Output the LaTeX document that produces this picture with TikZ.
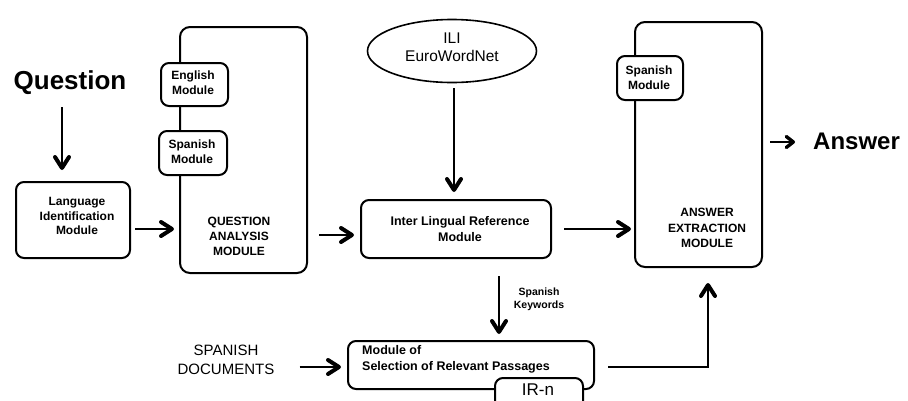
\documentclass[tikz,border=0pt]{standalone}
\usepackage{fontspec}
\setmainfont{Liberation Sans}
\usetikzlibrary{arrows.meta,shapes.geometric,calc}
\begin{document}
\begin{tikzpicture}[x=1pt,y=-1pt,
 box/.style={draw,line width=2pt,rounded corners=8pt,fill=white,inner sep=0pt,minimum width=#1},
 modtxt/.style={font=\fontsize{12}{15}\selectfont\bfseries,align=center,inner sep=0pt},
 plain/.style={inner sep=0pt,align=center},
 thinline/.style={line width=1.3pt},
 thickline/.style={line width=2.3pt},
 chev/.style={-{Straight Barb[length=11pt,width=14pt,line width=4pt,round]}},
 smallchev/.style={-{Straight Barb[length=7pt,width=11pt,line width=3.4pt,round]}},
]
\useasboundingbox[fill=white] (0,0) rectangle (908,400);

% main boxes
\node[box=114pt,minimum height=76pt] (lim) at (73,220) {};
\node[modtxt,font=\fontsize{12}{14.5}\selectfont\bfseries] (limt) at (77,216) {Language\\Identification\\Module};

\node[box=127pt,minimum height=246pt,rounded corners=10pt] (qa) at (243.5,150) {};
\node[box=67pt,minimum height=43pt] (eng) at (194.5,84.5) {};
\node[modtxt] (engt) at (193,82.5) {English\\Module};
\node[box=68pt,minimum height=44pt] (spq) at (193,153) {};
\node[modtxt] (spqt) at (192,151.5) {Spanish\\Module};
\node[modtxt] (qat) at (239,236) {QUESTION\\ANALYSIS\\MODULE};

\node[draw,ellipse,line width=1.6pt,minimum width=169pt,minimum height=63pt,inner sep=0pt] (ili) at (452,51) {};
\node[plain,font=\fontsize{15.5}{18}\selectfont] (ilit) at (452,47) {ILI\\EuroWordNet};

\node[box=190pt,minimum height=58pt] (ilr) at (456,229) {};
\node[modtxt,font=\fontsize{12.5}{16}\selectfont\bfseries] (ilrt) at (460,229) {Inter Lingual Reference\\Module};

\node[box=127pt,minimum height=245pt,rounded corners=10pt] (aem) at (698.5,144.5) {};
\node[box=66pt,minimum height=44pt] (spa) at (650,78) {};
\node[modtxt] (spat) at (649,77.5) {Spanish\\Module};
\node[modtxt,font=\fontsize{12}{15.5}\selectfont\bfseries] (aemt) at (707,228) {ANSWER\\EXTRACTION\\MODULE};

\node[box=246pt,minimum height=48pt] (msrp) at (471,365) {};
\node[modtxt,font=\fontsize{12.5}{16}\selectfont\bfseries,align=left,anchor=west] (msrpt) at (362,359) {Module of\\Selection of Relevant Passages};
\node[box=88pt,minimum height=40pt] (irn) at (539,398) {};
\node[plain,font=\fontsize{17}{20}\selectfont] (irnt) at (538,390) {IR-n};

% free texts
\node[plain,font=\fontsize{26}{30}\selectfont\bfseries] (q) at (70,83) {Question};
\node[plain,font=\fontsize{24}{28}\selectfont\bfseries,anchor=west] (ans) at (813,141) {Answer};
\node[plain,font=\fontsize{15}{19}\selectfont] (sd) at (226,359.5) {SPANISH\\DOCUMENTS};
\node[plain,font=\fontsize{10.5}{13}\selectfont\bfseries] (kw) at (539,299.5) {Spanish\\Keywords};

% connectors
\draw[thinline,chev] ($(q.center)+(-8,24)$) -- ($(lim.north)+(-11,-11)$);
\draw[thickline,chev] ($(lim.east)+(4,9)$) -- ($(qa.west|-lim.east)+(-5,9)$);
\draw[thickline,chev] ($(qa.east|-ilr.west)+(11,6)$) -- ($(ilr.west)+(-6,6)$);
\draw[thinline,chev] ($(ili.south)+(2,5)$) -- ($(ilr.north-|ili.south)+(2,-7)$);
\draw[thickline,chev] ($(ilr.east)+(12,0)$) -- ($(aem.west|-ilr.east)+(-3,0)$);
\draw[thinline,chev] ($(ilr.south)+(43,17)$) -- ($(msrp.north)+(28,-6)$);
\draw[thickline,chev] ($(sd.east|-msrp.west)+(25,2)$) -- ($(msrp.west)+(-6,2)$);
\draw[line width=1.9pt,chev] ($(msrp.east)+(13,2)$) -| ($(aem.south)+(9.5,15)$);
\draw[thickline,smallchev] ($(ans.west)+(-43,1)$) -- ($(ans.west)+(-18,1)$);
\end{tikzpicture}
\end{document}
